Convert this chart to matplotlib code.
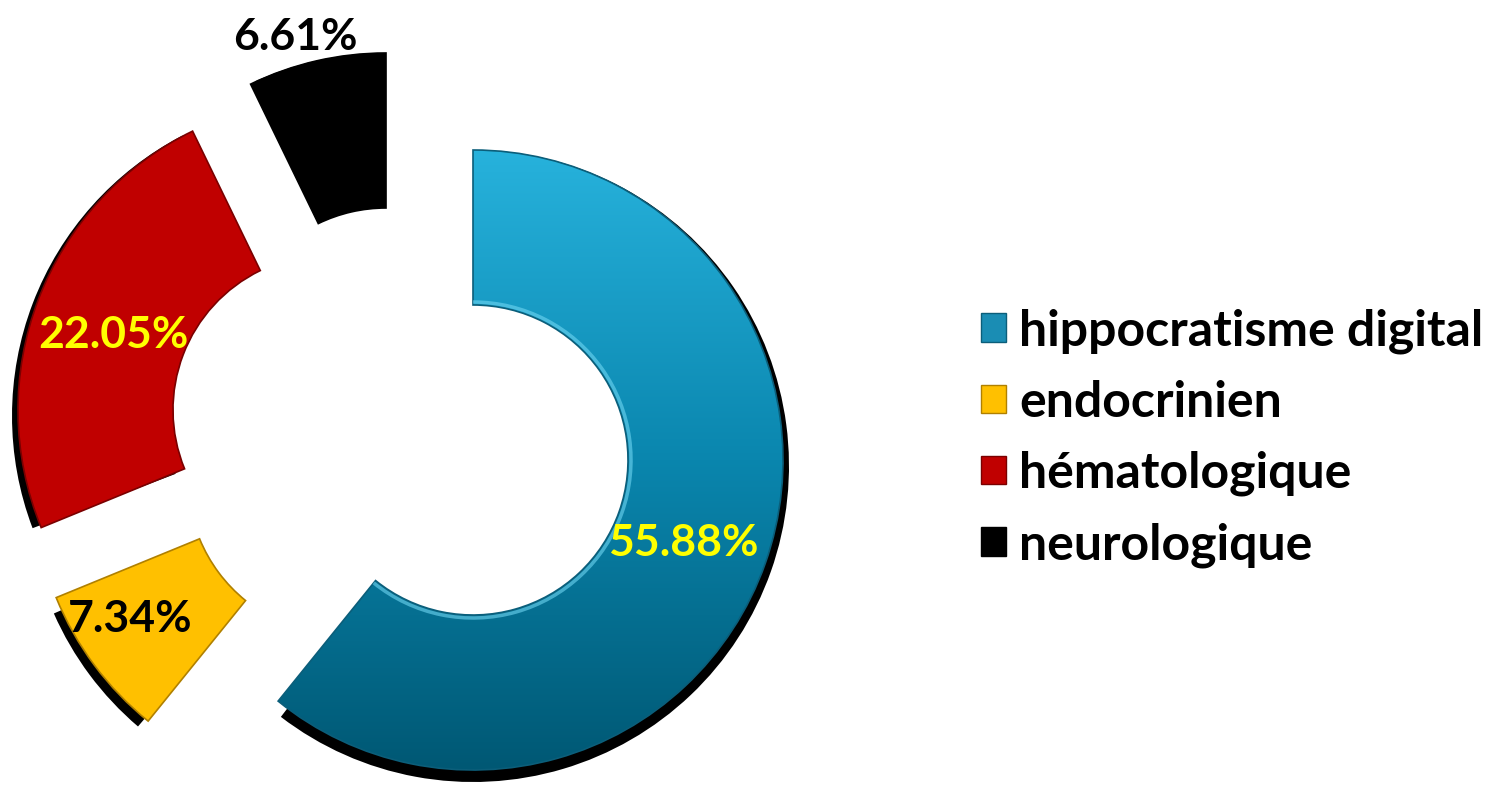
import numpy as np
import matplotlib
matplotlib.use("Agg")
import matplotlib.pyplot as plt
from matplotlib.colors import LinearSegmentedColormap
from matplotlib.patches import Patch, Wedge, Arc

# ── Data ──────────────────────────────────────────────────────────────────────
categories = ["hippocratisme digital", "endocrinien", "hématologique", "neurologique"]
shares = [55.88, 7.34, 22.05, 6.61]
colors = ["#1591BA", "#FFC000", "#C00000", "#000000"]
edge_colors = ["#0B5E7A", "#B08000", "#7A0000", "#000000"]
label_colors = ["#FFFF00", "#000000", "#FFFF00", "#000000"]

# ── Layout (pixel units, y up) ────────────────────────────────────────────────
W, H = 1496, 786
CX, CY = 473, H - 460
R = 310
RING = 155
# slices were dragged out of the ring by hand
offsets = [(0, 0), (-130, -20), (-145, 50), (-87, 97)]
label_radius = [232, 232, 232, 345]
label_nudge = [(-8, -6), (-27, 0), (2, -8), (-13, -10)]

plt.rcParams["font.family"] = ["Lato", "DejaVu Sans"]

fig = plt.figure(figsize=(W / 100, H / 100), dpi=100)
ax = fig.add_axes([0, 0, 1, 1])

wedges, _ = ax.pie(
    shares, colors=colors, startangle=90, counterclock=False,
    center=(CX, CY), radius=R,
    wedgeprops=dict(width=RING, linewidth=1.2),
)
ax.set_xlim(0, W)
ax.set_ylim(0, H)
ax.set_aspect("equal")
ax.axis("off")

for w, (dx, dy), ec in zip(wedges, offsets, edge_colors):
    w.set_center((CX + dx, CY + dy))
    w.set_edgecolor(ec)
    w.set_zorder(3)
    # drop shadow: slightly bigger black copy, pushed down a little
    cx, cy = w.center
    ax.add_patch(Wedge((cx, cy - 6), w.r + 6, w.theta1 + 1.5, w.theta2 - 1.5,
                       width=w.width - 2, facecolor="black", edgecolor="none", zorder=1))

# vertical shading on the big slice
blue = wedges[0]
blue.set_facecolor("none")
shade = LinearSegmentedColormap.from_list("shade", ["#005874", "#0A86AE", "#27B2DC"])
grad = np.linspace(0, 1, 256).reshape(-1, 1)
im = ax.imshow(grad, cmap=shade, origin="lower", aspect="auto",
               extent=(CX - R, CX + R, CY - R, CY + R), zorder=2)
im.set_clip_path(blue)
# bevel highlight along the hole
r_in = blue.r - blue.width
ax.add_patch(Arc(blue.center, 2 * (r_in + 3), 2 * (r_in + 3),
                 theta1=blue.theta1, theta2=blue.theta2,
                 color="#6FD6F2", lw=2.5, alpha=0.6, zorder=4))

# percentage labels
for w, v, rl, (nx, ny), tc in zip(wedges, shares, label_radius, label_nudge, label_colors):
    cx, cy = w.center
    mid = np.deg2rad((w.theta1 + w.theta2) / 2)
    ax.text(cx + rl * np.cos(mid) + nx, cy + rl * np.sin(mid) + ny, f"{v:.2f}%",
            ha="center", va="center", fontsize=32, fontweight="bold",
            color=tc, zorder=5)

handles = [Patch(facecolor=c, edgecolor=e, linewidth=1) for c, e in zip(colors, edge_colors)]
handles[0] = Patch(facecolor="#1A8DB4", edgecolor="#0B5E7A", linewidth=1)
ax.legend(handles, categories, loc="center left", bbox_to_anchor=(0.626, 0.443),
          frameon=False, prop=dict(weight="bold", size=36),
          handlelength=0.5, handleheight=0.5, handletextpad=0.26, labelspacing=0.52)

fig.savefig("out.png", dpi=100)
